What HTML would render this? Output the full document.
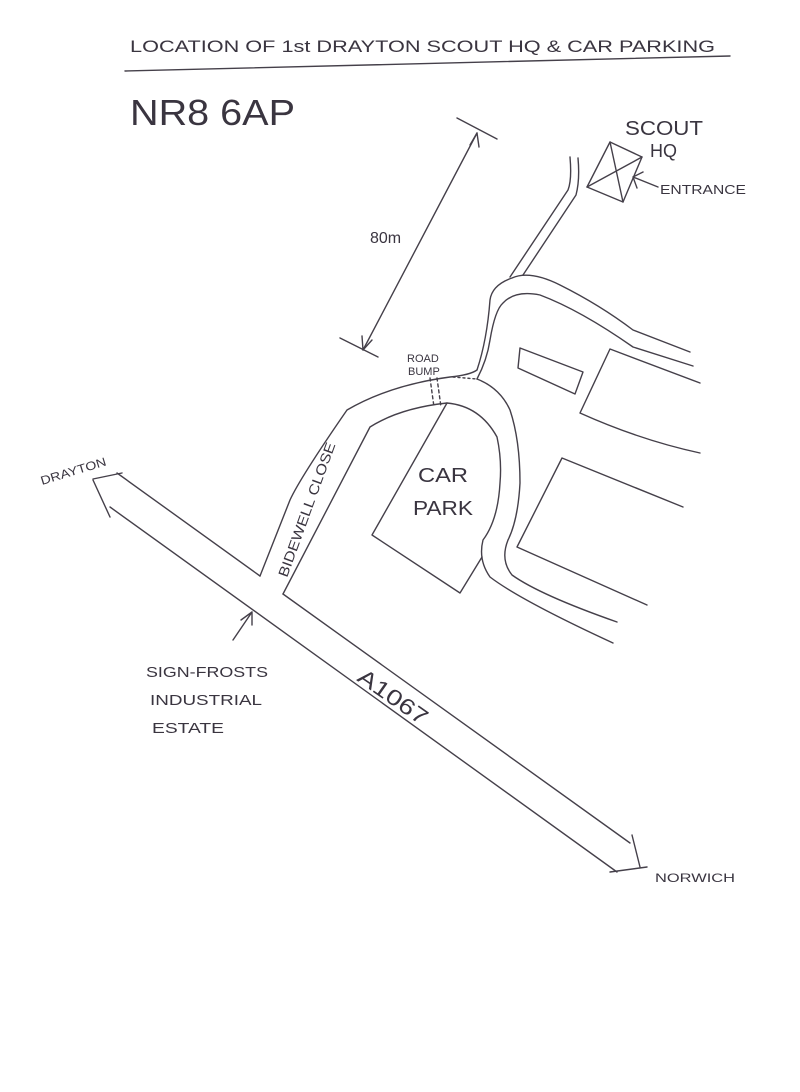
<!DOCTYPE html>
<html><head><meta charset="utf-8"><style>
html,body{margin:0;padding:0;background:#fff}
svg{display:block}
text{font-family:"Liberation Sans",sans-serif;fill:#3a3540}
</style></head><body>
<svg width="800" height="1092" viewBox="0 0 800 1092" xmlns="http://www.w3.org/2000/svg">
<g fill="none" stroke="#45404a" stroke-width="1.4" stroke-linecap="round" stroke-linejoin="round">
<!-- title underline -->
<path d="M125 71 L730 56"/>
<!-- A1067 -->
<path d="M117 473 L260 576"/>
<path d="M283 594 L630 843"/>
<path d="M110 507 L617 872"/>
<path d="M93 479 L122 473"/>
<path d="M93 480 L110 517"/>
<path d="M610 872 L647 867"/>
<path d="M632 835 L640 867"/>
<!-- Bidewell close + curve -->
<path d="M260 576 L290 500 Q300 478 347 410 Q390 385 450 377 Q470 375 477 370 Q487 340 490 300 Q492 285 512 278 Q530 270 560 285 Q600 305 633 330 L690 352"/>
<path d="M283 594 L370 427 Q400 408 447 403 Q480 406 497 437 Q502 460 500 483 Q498 520 483 540 Q478 560 490 577 Q520 600 613 643"/>
<path d="M477 379 Q500 388 510 410 Q520 440 520 483 Q518 520 508 540 Q500 560 512 575 Q540 595 617 622"/>
<path d="M477 379 Q487 360 490 340 Q495 310 503 303 Q515 290 540 295 Q580 310 633 347 L693 366"/>
<!-- narrow path to HQ -->
<path d="M570 157 Q572 180 568 190 L510 277"/>
<path d="M578 158 Q580 180 576 195 L523 275"/>
<!-- car park -->
<path d="M447 403 L372 535 L460 593 L482 557"/>
<!-- blocks -->
<path d="M520 348 L583 372 L575 394 L518 368 Z"/>
<path d="M700 383 L610 349 L580 413 Q640 440 700 453"/>
<path d="M683 507 L562 458 L517 547 Q580 575 647 605"/>
<!-- scout HQ -->
<path d="M610 142 L642 157 L623 202 L587 187 Z"/>
<path d="M610 142 L623 202 M642 157 L587 187"/>
<path d="M633 177 L658 187 M633 177 L637 188 M633 177 L643 172"/>
<!-- 80m dimension -->
<path d="M457 118 L497 139"/>
<path d="M477 133 L363 350"/>
<path d="M340 338 L378 357"/>
<path d="M477 133 L470 145 M477 133 L479 147"/>
<path d="M363 350 L362 336 M363 350 L372 340"/>
<!-- road bump -->
<path d="M430 378 L434 407 M437 378 L441 407" stroke-dasharray="3 3"/>
<path d="M453 377 L477 379" stroke-dasharray="2 3"/>
<!-- sign arrow -->
<path d="M233 640 L252 612 M252 612 L241 620 M252 612 L252 625"/>
</g>
<text x="130" y="52" font-size="17" textLength="585" lengthAdjust="spacingAndGlyphs">LOCATION OF 1st DRAYTON SCOUT HQ &amp; CAR PARKING</text>
<text x="130" y="125" font-size="36" textLength="165" lengthAdjust="spacingAndGlyphs">NR8 6AP</text>
<text x="625" y="135" font-size="20" textLength="78" lengthAdjust="spacingAndGlyphs">SCOUT</text>
<text x="650" y="157" font-size="18">HQ</text>
<text x="660" y="194" font-size="13" textLength="86" lengthAdjust="spacingAndGlyphs">ENTRANCE</text>
<text x="370" y="243" font-size="16">80m</text>
<text x="407" y="362" font-size="11">ROAD</text>
<text x="408" y="375" font-size="11">BUMP</text>
<text x="418" y="482" font-size="20" textLength="50" lengthAdjust="spacingAndGlyphs">CAR</text>
<text x="413" y="515" font-size="20" textLength="60" lengthAdjust="spacingAndGlyphs">PARK</text>
<text transform="translate(287,578) rotate(-70)" font-size="14" textLength="142" lengthAdjust="spacingAndGlyphs">BIDEWELL CLOSE</text>
<text transform="translate(42,485) rotate(-17)" font-size="12" textLength="68" lengthAdjust="spacingAndGlyphs">DRAYTON</text>
<text transform="translate(356,680) rotate(35)" font-size="22" textLength="80" lengthAdjust="spacingAndGlyphs">A1067</text>
<text x="146" y="677" font-size="15" textLength="122" lengthAdjust="spacingAndGlyphs">SIGN-FROSTS</text>
<text x="150" y="705" font-size="15" textLength="112" lengthAdjust="spacingAndGlyphs">INDUSTRIAL</text>
<text x="152" y="733" font-size="15" textLength="72" lengthAdjust="spacingAndGlyphs">ESTATE</text>
<text x="655" y="882" font-size="12" textLength="80" lengthAdjust="spacingAndGlyphs">NORWICH</text>
</svg>
</body></html>
